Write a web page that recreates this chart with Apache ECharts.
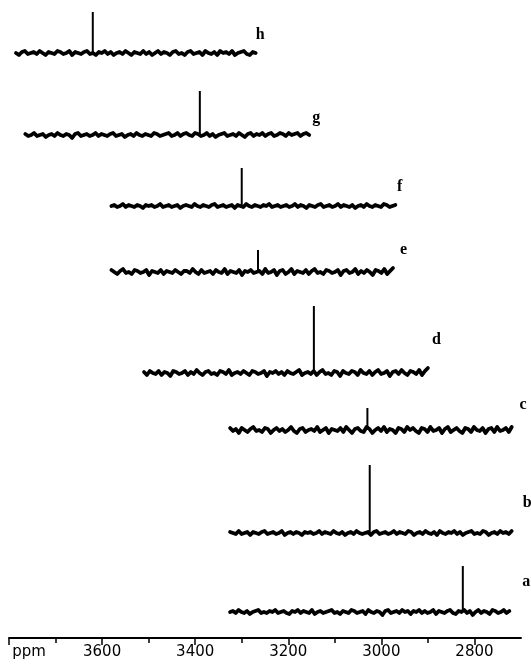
<!DOCTYPE html>
<html>
<head>
<meta charset="utf-8">
<script src="https://cdn.jsdelivr.net/npm/echarts@6/dist/echarts.min.js"></script>
<style>
html, body { margin: 0; padding: 0; background: #fff; }
#chart { width: 531px; height: 670px; }
</style>
</head>
<body>
<div id="chart"></div>
<script>
// spectra, bottom (a) to top (h)
var names = ['a', 'b', 'c', 'd', 'e', 'f', 'g', 'h'];
var startPpm = [3325, 3325, 3325, 3510, 3580, 3580, 3765, 3785];
var endPpm = [2725, 2720, 2720, 2900, 2975, 2970, 3155, 3270];
var peakPpm = [2825, 3025, 3030, 3145, 3265, 3300, 3390, 3620];
var peakHeight = [46, 68, 22, 67, 22, 38, 44, 41];
// vertical offset of each trace in the stack
var baseline = [26, 105, 208, 265, 366, 432, 503, 585];
var noise = {
    a: [0,1,-1,2,0,-1,1,-2,0,1,2,-1,0,-1,1,0,2,-1,0,1,-1,-2,1,0,2,-1,1,0,-1,2,-2,0,1,-1,0,1,2,-1,0,-2,1,0,-1,2,1,-1,0,1,-2,2,0,-1,1,0,-3,1,2,-1,0,1,-1,2,0,1,-2,1,0,2,-1,1,-1,0,2,-2,1,0,-1,1,2,-1,-2,1,0,2,-1,1,-3,0,2,-1,1,0,-2,2,1,-1,0,2,-1,1],
    b: [1,0,-1,2,-1,0,1,-2,1,0,-1,1,2,-1,0,1,-1,0,2,-2,0,1,-1,1,0,-2,1,0,1,-1,0,2,-1,1,0,-1,2,0,-1,1,-2,0,1,-1,2,0,-1,0,1,-2,1,2,-1,0,1,-1,0,2,-1,1,0,-1,2,1,-2,0,1,-1,2,0,-1,1,-2,2,0,-1,1,0,2,-1,1,-2,0,1,2,-1,0,-1,2,1,-2,0,1,-1,2,0,1,-1,2],
    c: [2,-1,1,-3,2,0,-2,1,3,-1,0,-2,2,1,-3,0,2,-1,1,-2,0,3,-1,-3,1,2,-2,0,1,-1,3,-2,0,2,-3,1,0,-1,2,-2,3,0,-3,1,2,-1,-2,3,1,-3,0,2,-1,3,-2,1,0,-3,2,1,-2,3,0,2,-1,-3,2,1,-2,3,-1,0,2,-3,1,3,-2,0,2,-1,-3,2,1,-2,3,0,-1,2,-3,1,2,-2,3,-1,0,2,-2,3],
    d: [1,-2,2,0,-1,2,-2,1,0,-3,2,1,-1,0,2,-2,1,-1,3,0,-2,1,2,-1,0,-2,2,1,-1,3,-2,0,1,-1,2,0,-2,2,1,-1,0,2,-3,1,0,2,-1,1,-2,2,0,-1,1,3,-2,0,1,-1,2,-2,1,3,-1,0,-2,2,1,-3,2,0,-1,2,1,-2,3,0,-1,2,-2,1,3,-1,0,2,-3,1,2,-1,3,0,-2,2,1,-1,3,-2,2,5],
    e: [2,0,-2,1,3,-1,0,-2,2,1,-1,0,2,-3,1,0,-1,2,-2,1,0,-1,2,0,-2,1,1,-1,3,0,-2,2,-1,0,1,-2,2,0,-1,3,-2,1,0,-1,2,-3,1,0,2,-1,0,1,-2,3,-1,0,2,-3,1,2,-2,0,3,-2,1,0,-1,2,-2,1,3,-1,0,-2,2,1,-1,0,2,-3,1,2,-1,0,3,-2,1,-1,2,0,-3,2,1,-1,3,-2,1,4],
    f: [0,1,-1,0,2,-1,1,0,-1,1,0,-2,1,0,1,-1,0,2,-1,0,1,-1,0,1,-2,0,1,0,-1,2,0,-1,1,0,-1,1,2,-1,0,1,-1,0,1,-2,1,0,-1,2,0,-1,1,0,-1,1,0,2,-1,0,1,-1,0,1,-1,0,2,-1,1,0,-2,1,0,-1,1,2,-1,0,1,-1,0,2,-1,1,0,-1,1,-2,0,1,-1,2,0,-1,1,0,-1,2,1,-1,0,1],
    g: [1,-1,0,2,-1,0,1,-2,0,1,-1,2,0,-1,1,0,-3,1,2,-1,0,1,-1,0,2,-1,1,0,-1,1,2,-1,0,1,-2,0,1,-1,2,0,-1,1,0,-1,2,1,-1,0,1,2,-1,0,2,-1,1,2,0,-1,2,1,-1,0,2,-1,1,-2,0,1,2,-1,0,1,-1,2,0,-2,1,2,-1,1,0,2,-1,1,2,-1,0,2,1,-1,2,0,1,2,-1,1,2,0],
    h: [0,-2,1,2,-1,0,1,-1,2,0,-2,1,0,-1,2,1,-1,0,2,-2,1,0,-1,1,2,-1,0,-2,1,0,2,-1,1,-2,0,1,-1,2,0,-2,1,0,-1,2,-1,1,-2,0,2,-1,1,0,-2,1,2,-1,0,-2,1,2,-1,0,1,-2,2,0,-1,1,-2,2,0,1,-1,2,-2,0,1,2,-1,-2,1,0]
};
var majorTicks = [3800, 3600, 3400, 3200, 3000, 2800];
var minorTicks = [3700, 3500, 3300, 3100, 2900];

// where the letter sits relative to the right end of its trace
var labelShift = [[21, -29], [20, -28], [15, -22], [13, -28], [14, -18], [7, -18], [11, -17], [9, -18]];

function baselineData (i) {
    var n = noise[names[i]];
    var step = (startPpm[i] - endPpm[i]) / (n.length - 1);
    var data = [];
    for (var k = 0; k < n.length; k++) {
        data.push([startPpm[i] - k * step, baseline[i] + n[k]]);
    }
    return data;
}

var series = [];
names.forEach(function (name, i) {
    series.push({
        name: name,
        type: 'line',
        symbol: 'none',
        lineStyle: { color: '#000', width: 3.8, join: 'round', cap: 'round' },
        endLabel: {
            show: true,
            formatter: name,
            distance: 0,
            offset: labelShift[i],
            color: '#000',
            fontFamily: 'Liberation Serif',
            fontWeight: 'bold',
            fontSize: 16
        },
        data: baselineData(i)
    });
    // the single sharp resonance of this spectrum
    series.push({
        name: name + ' peak',
        type: 'line',
        symbol: 'none',
        lineStyle: { color: '#000', width: 2 },
        data: [[peakPpm[i], baseline[i]], [peakPpm[i], baseline[i] + peakHeight[i]]]
    });
});

var chart = echarts.init(document.getElementById('chart'));
chart.setOption({
    animation: false,
    backgroundColor: '#fff',
    grid: { left: 9, right: 10, top: 0, bottom: 32, containLabel: false },
    xAxis: [
        {
            type: 'value',
            position: 'bottom',
            min: 2700,
            max: 3800,
            inverse: true,
            axisLine: { lineStyle: { color: '#000', width: 2 } },
            axisTick: { customValues: majorTicks, length: 7, lineStyle: { color: '#000', width: 1.5 } },
            axisLabel: {
                customValues: majorTicks,
                showMinLabel: true,
                showMaxLabel: true,
                margin: 7,
                color: '#000',
                fontFamily: 'DejaVu Sans',
                fontSize: 15,
                formatter: function (v) {
                    return v === 3800 ? '{p|ppm}' : String(v);
                },
                rich: {
                    p: { padding: [0, 0, 0, 40], color: '#000', fontFamily: 'DejaVu Sans', fontSize: 15 }
                }
            },
            splitLine: { show: false }
        },
        {
            type: 'value',
            position: 'bottom',
            min: 2700,
            max: 3800,
            inverse: true,
            axisLine: { show: false },
            axisTick: { customValues: minorTicks, length: 5, lineStyle: { color: '#000', width: 1.5 } },
            axisLabel: { show: false },
            splitLine: { show: false }
        }
    ],
    yAxis: { type: 'value', min: 0, max: 638, show: false },
    series: series
});
</script>
</body>
</html>
